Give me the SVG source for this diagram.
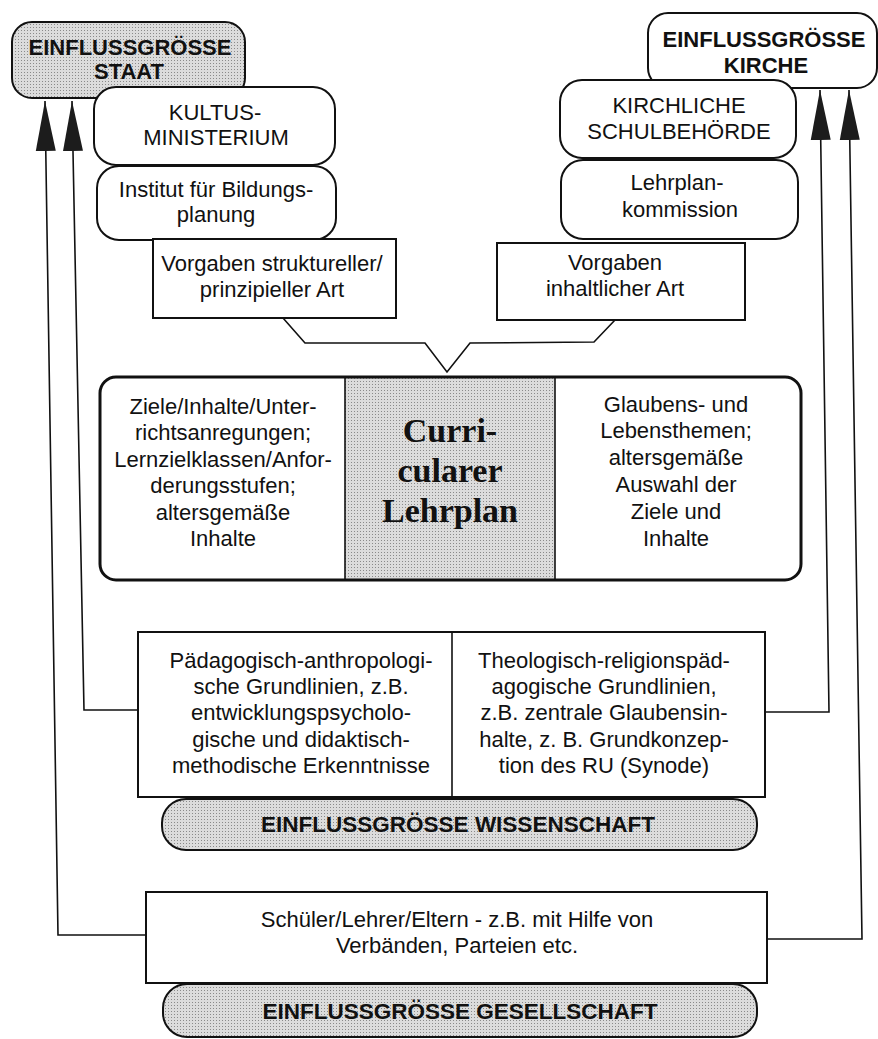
<svg xmlns="http://www.w3.org/2000/svg" width="878" height="1039" viewBox="0 0 878 1039">
<style>
text{font-family:"Liberation Sans",Arial,sans-serif;fill:#111;text-anchor:middle}
.t{font-size:22px}
.b{font-size:22px;font-weight:bold}
.bl{font-size:22.5px;font-weight:bold}
.serif{font-family:"Liberation Serif","Times New Roman",serif;font-size:34px;font-weight:bold}
.box{fill:#fff;stroke:#111;stroke-width:2}
.gray{fill:url(#dots);stroke:#111;stroke-width:2}
.conn{fill:none;stroke:#111;stroke-width:1.6}
</style>
<defs>
<pattern id="dots" width="3" height="3" patternUnits="userSpaceOnUse">
<rect width="3" height="3" fill="#dcdcdc"/>
<rect width="1" height="1" fill="#8a8a8a"/>
</pattern>
<marker id="ah" markerWidth="52" markerHeight="22" refX="50" refY="11" orient="auto" markerUnits="userSpaceOnUse">
<path d="M0,1 L50,11 L0,21 Z" fill="#1c1c1c"/>
</marker>
</defs>
<rect width="878" height="1039" fill="#fff"/>

<g id="connectors">
<path class="conn" d="M146,935 L58,935 L45,101" marker-end="url(#ah)"/>
<path class="conn" d="M139,710 L84,710 L72,101" marker-end="url(#ah)"/>
<path class="conn" d="M766,712 L829,712 L820,90" marker-end="url(#ah)"/>
<path class="conn" d="M768,939 L862,939 L849,90" marker-end="url(#ah)"/>
<path class="conn" d="M283,318 L305,343 L425,343 L447,372 L470,343 L594,342 L615,320"/>
</g>

<g id="staat">
<rect class="gray" x="12" y="22" width="233" height="76" rx="20"/>
<text class="b" x="130" y="55">EINFLUSSGRÖSSE</text>
<text class="b" x="129" y="79">STAAT</text>
</g>

<g id="kultusministerium">
<rect class="box" x="94" y="87" width="241" height="78" rx="22"/>
<text class="t" x="215" y="120">KULTUS-</text>
<text class="t" x="216" y="145">MINISTERIUM</text>
</g>

<g id="institut">
<rect class="box" x="97" y="166" width="239" height="74" rx="22"/>
<text class="t" x="216" y="197">Institut für Bildungs-</text>
<text class="t" x="216" y="222">planung</text>
</g>

<g id="vorgaben-strukturell">
<rect class="box" x="153" y="239" width="243" height="79"/>
<text class="t" x="272" y="271">Vorgaben struktureller/</text>
<text class="t" x="272" y="297">prinzipieller Art</text>
</g>

<g id="kirche">
<rect class="box" x="648" y="13" width="229" height="75" rx="20"/>
<text class="b" x="764" y="47">EINFLUSSGRÖSSE</text>
<text class="b" x="766" y="73">KIRCHE</text>
</g>

<g id="schulbehoerde">
<rect class="box" x="560" y="80" width="236" height="78" rx="22"/>
<text class="t" x="679" y="113">KIRCHLICHE</text>
<text class="t" x="679" y="139">SCHULBEHÖRDE</text>
</g>

<g id="lehrplankommission">
<rect class="box" x="561" y="160" width="237" height="79" rx="22"/>
<text class="t" x="677" y="190">Lehrplan-</text>
<text class="t" x="680" y="217">kommission</text>
</g>

<g id="vorgaben-inhaltlich">
<rect class="box" x="497" y="243" width="248" height="77"/>
<text class="t" x="615" y="270">Vorgaben</text>
<text class="t" x="615" y="296">inhaltlicher Art</text>
</g>

<g id="lehrplan">
<rect x="100" y="377" width="701" height="203" rx="16" fill="#fff" stroke="none"/>
<rect x="345" y="378" width="210" height="201" fill="url(#dots)"/>
<line x1="345" y1="378" x2="345" y2="579" stroke="#111" stroke-width="1.6"/>
<line x1="555" y1="378" x2="555" y2="579" stroke="#111" stroke-width="1.6"/>
<rect x="100" y="377" width="701" height="203" rx="16" fill="none" stroke="#111" stroke-width="3"/>
<text class="t" x="223" y="414">Ziele/Inhalte/Unter-</text>
<text class="t" x="223" y="440">richtsanregungen;</text>
<text class="t" x="223" y="467">Lernzielklassen/Anfor-</text>
<text class="t" x="223" y="493">derungsstufen;</text>
<text class="t" x="223" y="520">altersgemäße</text>
<text class="t" x="223" y="546">Inhalte</text>
<text class="serif" x="450" y="442">Curri-</text>
<text class="serif" x="450" y="482">cularer</text>
<text class="serif" x="450" y="522">Lehrplan</text>
<text class="t" x="676" y="412">Glaubens- und</text>
<text class="t" x="676" y="438">Lebensthemen;</text>
<text class="t" x="676" y="465">altersgemäße</text>
<text class="t" x="676" y="492">Auswahl der</text>
<text class="t" x="676" y="519">Ziele und</text>
<text class="t" x="676" y="546">Inhalte</text>
</g>

<g id="grundlinien">
<rect class="box" x="138" y="632" width="627" height="165"/>
<line x1="452" y1="632" x2="452" y2="797" stroke="#111" stroke-width="1.6"/>
<text class="t" x="301" y="668">Pädagogisch-anthropologi-</text>
<text class="t" x="301" y="694">sche Grundlinien, z.B.</text>
<text class="t" x="301" y="720">entwicklungspsycholo-</text>
<text class="t" x="301" y="747">gische und didaktisch-</text>
<text class="t" x="301" y="773">methodische Erkenntnisse</text>
<text class="t" x="604" y="668">Theologisch-religionspäd-</text>
<text class="t" x="604" y="694">agogische Grundlinien,</text>
<text class="t" x="604" y="720">z.B. zentrale Glaubensin-</text>
<text class="t" x="604" y="747">halte, z. B. Grundkonzep-</text>
<text class="t" x="604" y="773">tion des RU (Synode)</text>
</g>

<g id="wissenschaft">
<rect class="gray" x="162" y="799" width="595" height="51" rx="24"/>
<text class="bl" x="458" y="832">EINFLUSSGRÖSSE WISSENSCHAFT</text>
</g>

<g id="gesellschaft">
<rect class="gray" x="163" y="984" width="594" height="53" rx="24"/>
<text class="bl" x="460" y="1019">EINFLUSSGRÖSSE GESELLSCHAFT</text>
</g>

<g id="schueler">
<rect class="box" x="146" y="892" width="621" height="91"/>
<text class="t" x="457" y="927">Schüler/Lehrer/Eltern - z.B. mit Hilfe von</text>
<text class="t" x="457" y="953">Verbänden, Parteien etc.</text>
</g>
</svg>
